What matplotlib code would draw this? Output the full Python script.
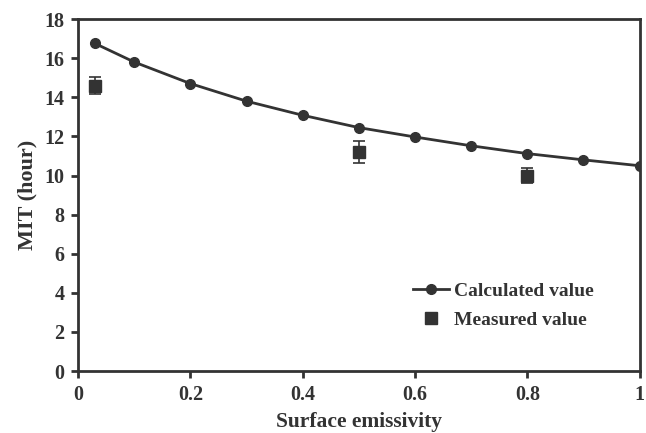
import matplotlib
matplotlib.use("Agg")
import matplotlib.pyplot as plt
from matplotlib.lines import Line2D

calc_x = [0.03, 0.1, 0.2, 0.3, 0.4, 0.5, 0.6, 0.7, 0.8, 0.9, 1.0]
calc_y = [16.75, 15.8, 14.7, 13.8, 13.08, 12.45, 11.97, 11.52, 11.12, 10.8, 10.5]
meas_x = [0.03, 0.5, 0.8]
meas_y = [14.6, 11.2, 10.0]
meas_err = [0.42, 0.57, 0.4]

plt.rcParams['font.family'] = ['Liberation Serif', 'DejaVu Serif']
plt.rcParams['font.weight'] = 'bold'
c = '#333333'

fig = plt.figure(figsize=(6.46, 4.33), dpi=100)
ax = fig.add_axes([0.121, 0.143, 0.869, 0.813])
ax.plot(calc_x, calc_y, '-o', color=c, lw=2, ms=7, zorder=3)
ax.errorbar(meas_x, meas_y, yerr=meas_err, fmt='s', color=c, ms=9, capsize=4,
            elinewidth=1.2, capthick=1.2, zorder=2)
ax.set_xlim(0, 1)
ax.set_ylim(0, 18)
ax.set_xticks([0, 0.2, 0.4, 0.6, 0.8, 1])
ax.set_xticklabels(['0', '0.2', '0.4', '0.6', '0.8', '1'])
ax.set_yticks(range(0, 19, 2))
for s in ax.spines.values():
    s.set_linewidth(2)
    s.set_color(c)
ax.tick_params(axis='both', direction='out', length=5, width=2, color=c,
               labelsize=14.5, labelcolor=c, pad=5)
ax.set_xlabel('Surface emissivity', fontsize=15.5, fontweight='bold', color=c, labelpad=5)
ax.set_ylabel('MIT (hour)', fontsize=16, fontweight='bold', color=c, labelpad=5)
h = [Line2D([], [], color=c, lw=2, marker='o', ms=7),
     Line2D([], [], color=c, lw=0, marker='s', ms=9)]
l = ['Calculated value', 'Measured value']
leg = ax.legend(h, l, loc='lower right', bbox_to_anchor=(0.95, 0.069), frameon=False,
                fontsize=14, handlelength=1.85, labelspacing=0.6, handletextpad=0.25)
for t in leg.get_texts():
    t.set_color(c)
fig.savefig('out.png', dpi=100)
